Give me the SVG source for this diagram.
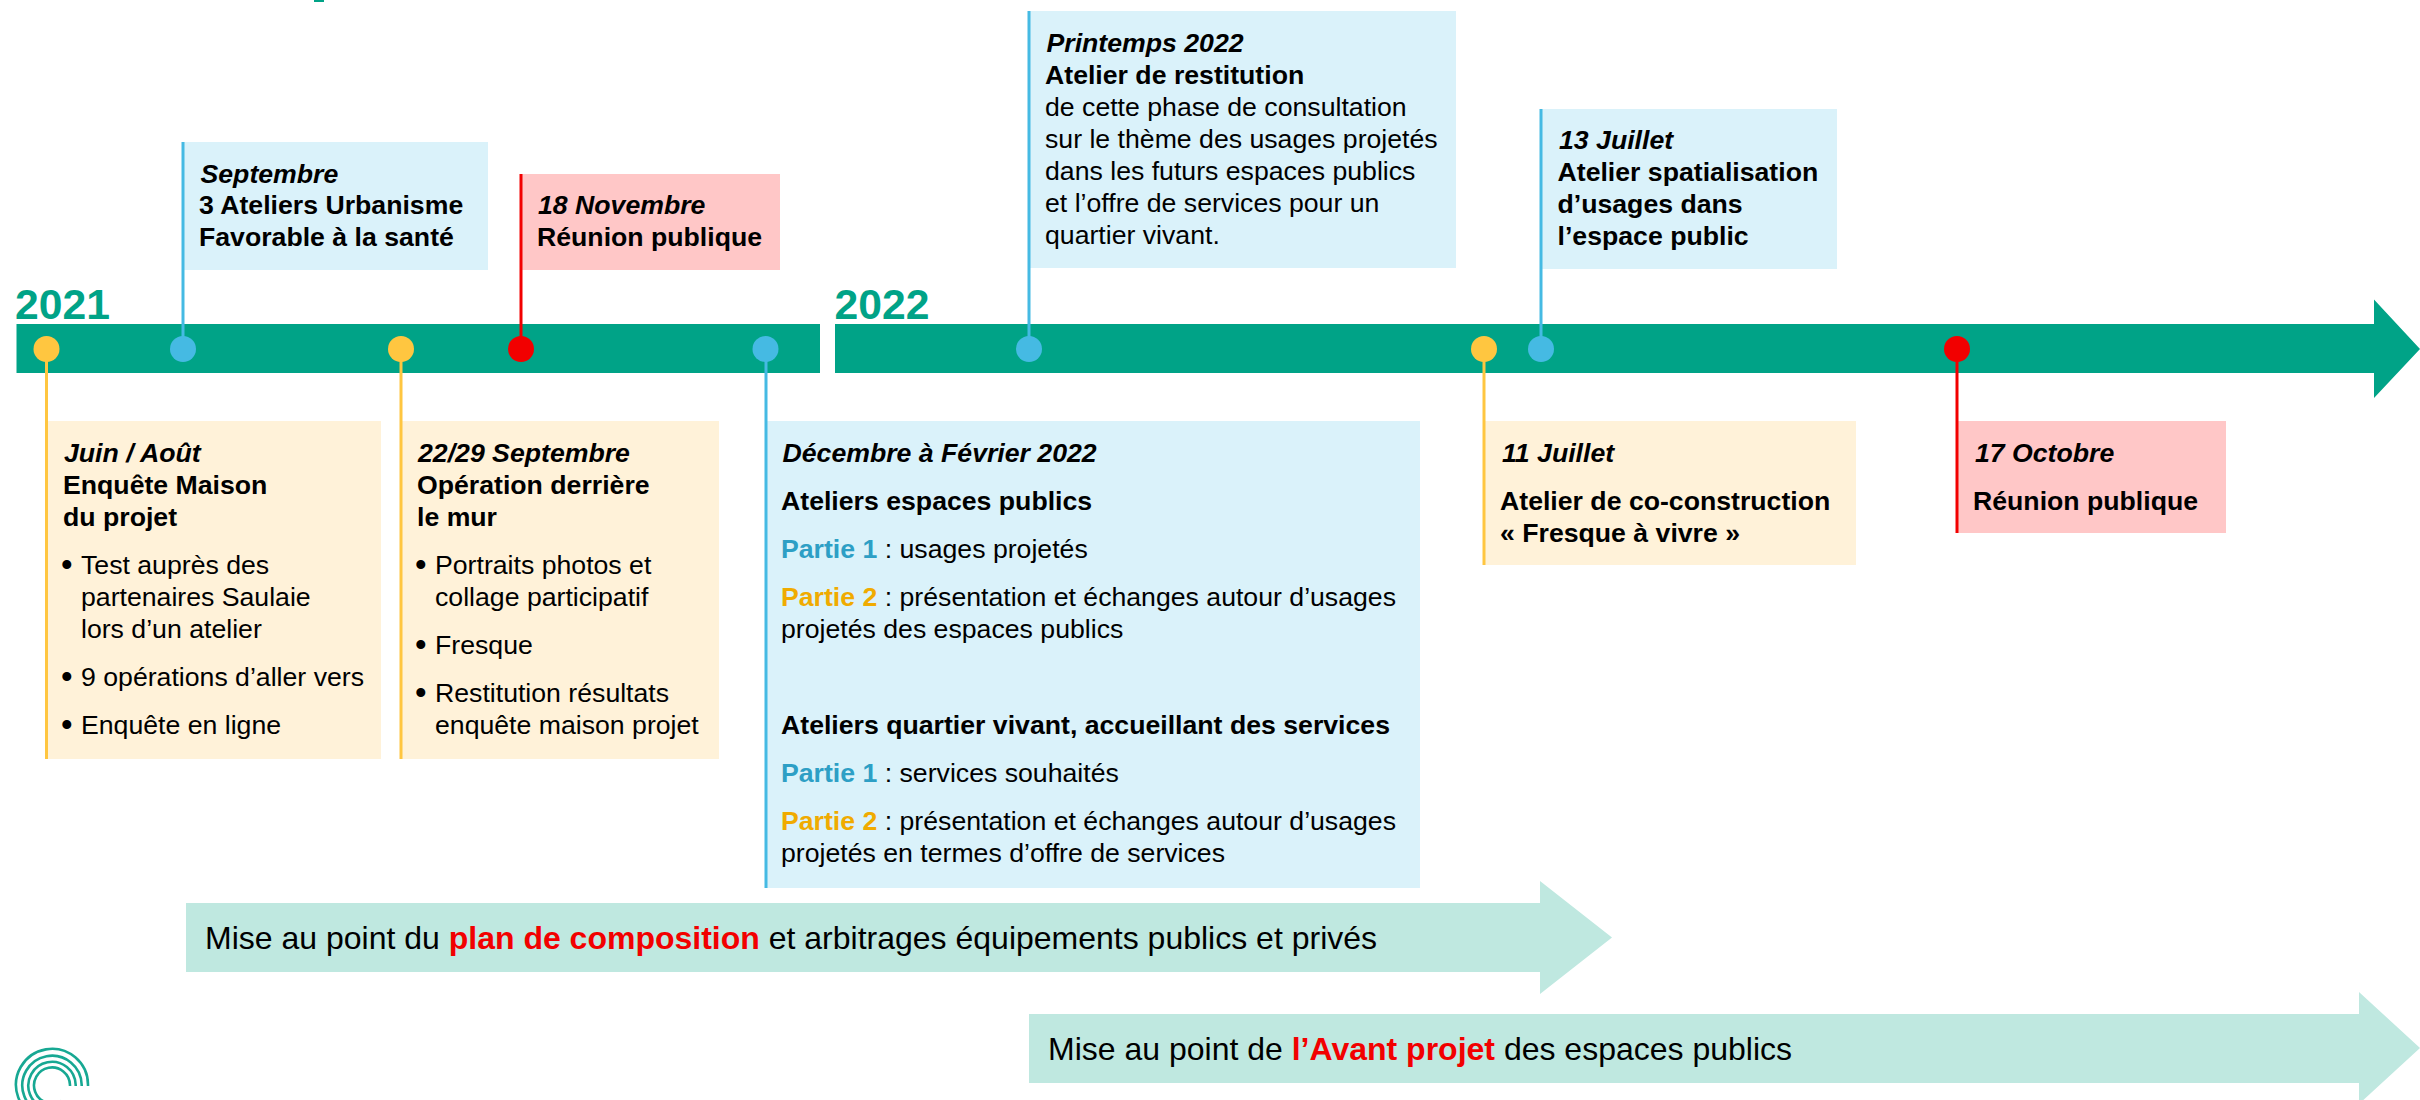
<svg xmlns="http://www.w3.org/2000/svg" width="2420" height="1100" viewBox="0 0 2420 1100">
<style>
text{font-family:"Liberation Sans",Arial,sans-serif;font-size:26.67px;fill:#000}
.i{font-style:italic;font-weight:700}
.b{font-weight:700}
.bu{font-size:33px}
.blue{fill:#DAF2FA}.yel{fill:#FFF2D9}.pink{fill:#FFC7C7}
.p1{font-weight:700;fill:#2D9FC5}.p2{font-weight:700;fill:#F0AB00}
.yr{font-size:42.67px;font-weight:700;fill:#00A387}
.big{font-size:32px}.red{font-weight:700;fill:#F20000}
.bar{fill:#00A387}.arr{fill:#BFE8E0}
.cb{stroke:#45BAE3;stroke-width:3;fill:none}.cy{stroke:#FFC640;stroke-width:3;fill:none}.cr{stroke:#F20000;stroke-width:3;fill:none}
.db{fill:#45BAE3}.dy{fill:#FFC640}.dr{fill:#F20000}
.arc{fill:none;stroke:#17A893;stroke-width:2.6}
</style>
<g id="timeline">
<rect class="bar" x="16.5" y="324" width="803.5" height="49"/>
<path class="bar" d="M835 324H2374V299.5L2420 349L2374 398V373H835Z"/>
<text class="yr" x="15" y="319">2021</text>
<text class="yr" x="834.500" y="319">2022</text>
</g>
<g id="phase-plan">
<path class="arr" d="M186 903H1540V881L1612 937.5L1540 994V972H186Z"/>
<text class="big" x="205" y="949">Mise au point du <tspan class="red">plan de composition</tspan> et arbitrages équipements publics et privés</text>
</g>
<g id="phase-avant-projet">
<path class="arr" d="M1029 1014H2359V992L2420 1048L2359 1104V1083H1029Z"/>
<text class="big" x="1048" y="1060">Mise au point de <tspan class="red">l’Avant projet</tspan> des espaces publics</text>
</g>
<g id="node-juin">
<rect class="yel" x="47" y="421" width="334" height="338"/>
<text class="i" x="64" y="462">Juin / Août</text>
<text class="b" x="63" y="494">Enquête Maison</text>
<text class="b" x="63" y="526">du projet</text>
<text class="bu" x="61" y="576">•</text><text x="81" y="574">Test auprès des</text>
<text x="81" y="606">partenaires Saulaie</text>
<text x="81" y="638">lors d’un atelier</text>
<text class="bu" x="61" y="688">•</text><text x="81" y="686">9 opérations d’aller vers</text>
<text class="bu" x="61" y="736">•</text><text x="81" y="734">Enquête en ligne</text>
</g>
<g id="node-septembre">
<rect class="blue" x="183" y="142" width="305" height="128"/>
<text class="i" x="200.500" y="182.500">Septembre</text>
<text class="b" x="199" y="214">3 Ateliers Urbanisme</text>
<text class="b" x="199" y="246">Favorable à la santé</text>
</g>
<g id="node-22-29-septembre">
<rect class="yel" x="401" y="421" width="318" height="338"/>
<text class="i" x="418" y="462">22/29 Septembre</text>
<text class="b" x="417" y="494">Opération derrière</text>
<text class="b" x="417" y="526">le mur</text>
<text class="bu" x="415" y="576">•</text><text x="435" y="574">Portraits photos et</text>
<text x="435" y="606">collage participatif</text>
<text class="bu" x="415" y="656">•</text><text x="435" y="654">Fresque</text>
<text class="bu" x="415" y="704">•</text><text x="435" y="702">Restitution résultats</text>
<text x="435" y="734">enquête maison projet</text>
</g>
<g id="node-18-novembre">
<rect class="pink" x="521" y="174" width="259" height="96"/>
<text class="i" x="538" y="214">18 Novembre</text>
<text class="b" x="537" y="246">Réunion publique</text>
</g>
<g id="node-decembre">
<rect class="blue" x="766" y="421" width="654" height="467"/>
<text class="i" x="782.500" y="462">Décembre à Février 2022</text>
<text class="b" x="781" y="510">Ateliers espaces publics</text>
<text x="781" y="558"><tspan class="p1">Partie 1</tspan> : usages projetés</text>
<text x="781" y="606"><tspan class="p2">Partie 2</tspan> : présentation et échanges autour d’usages</text>
<text x="781" y="638">projetés des espaces publics</text>
<text class="b" x="781" y="734">Ateliers quartier vivant, accueillant des services</text>
<text x="781" y="782"><tspan class="p1">Partie 1</tspan> : services souhaités</text>
<text x="781" y="830"><tspan class="p2">Partie 2</tspan> : présentation et échanges autour d’usages</text>
<text x="781" y="862">projetés en termes d’offre de services</text>
</g>
<g id="node-printemps">
<rect class="blue" x="1029" y="11" width="427" height="257"/>
<text class="i" x="1046.500" y="52">Printemps 2022</text>
<text class="b" x="1045" y="84">Atelier de restitution</text>
<text x="1045" y="116">de cette phase de consultation</text>
<text x="1045" y="148">sur le thème des usages projetés</text>
<text x="1045" y="180">dans les futurs espaces publics</text>
<text x="1045" y="212">et l’offre de services pour un</text>
<text x="1045" y="244">quartier vivant.</text>
</g>
<g id="node-11-juillet">
<rect class="yel" x="1484" y="421" width="372" height="144"/>
<text class="i" x="1502" y="462">11 Juillet</text>
<text class="b" x="1500" y="510">Atelier de co-construction</text>
<text class="b" x="1500" y="542">« Fresque à vivre »</text>
</g>
<g id="node-13-juillet">
<rect class="blue" x="1541" y="109" width="296" height="160"/>
<text class="i" x="1559" y="149">13 Juillet</text>
<text class="b" x="1557.500" y="181">Atelier spatialisation</text>
<text class="b" x="1557.500" y="213">d’usages dans</text>
<text class="b" x="1557.500" y="245">l’espace public</text>
</g>
<g id="node-17-octobre">
<rect class="pink" x="1957" y="421" width="269" height="112"/>
<text class="i" x="1975" y="462">17 Octobre</text>
<text class="b" x="1973" y="510">Réunion publique</text>
</g>
<g id="connectors">
<path class="cy" d="M46.500 349V759"/>
<path class="cb" d="M183 142V349"/>
<path class="cy" d="M401 349V759"/>
<path class="cr" d="M521 174V349"/>
<path class="cb" d="M766 349V888"/>
<path class="cb" d="M1029 11V349"/>
<path class="cy" d="M1484 349V565"/>
<path class="cb" d="M1541 109V349"/>
<path class="cr" d="M1957 349V533"/>
</g>
<g id="markers">
<ellipse class="dy" cx="46.500" cy="349" rx="13" ry="13"/>
<ellipse class="db" cx="183" cy="349" rx="13" ry="13"/>
<ellipse class="dy" cx="401" cy="349" rx="13" ry="13"/>
<ellipse class="dr" cx="521" cy="349" rx="13" ry="13"/>
<ellipse class="db" cx="765.500" cy="349" rx="13" ry="13"/>
<ellipse class="db" cx="1029" cy="349" rx="13" ry="13"/>
<ellipse class="dy" cx="1484" cy="349" rx="13" ry="13"/>
<ellipse class="db" cx="1541" cy="349" rx="13" ry="13"/>
<ellipse class="dr" cx="1957" cy="349" rx="13" ry="13"/>
</g>
<g id="logo">
<path class="arc" d="M88 1086V1085A36 36 0 1 0 70 1116"/>
<path class="arc" d="M81.700 1086V1085A29.700 29.700 0 1 0 67 1111"/>
<path class="arc" d="M75.700 1086V1085A23.700 23.700 0 1 0 64 1106"/>
<path class="arc" d="M70 1086V1085A18 18 0 1 0 61 1101"/>
</g>
<rect x="314" y="0" width="10" height="2" fill="#00A387"/>
</svg>
